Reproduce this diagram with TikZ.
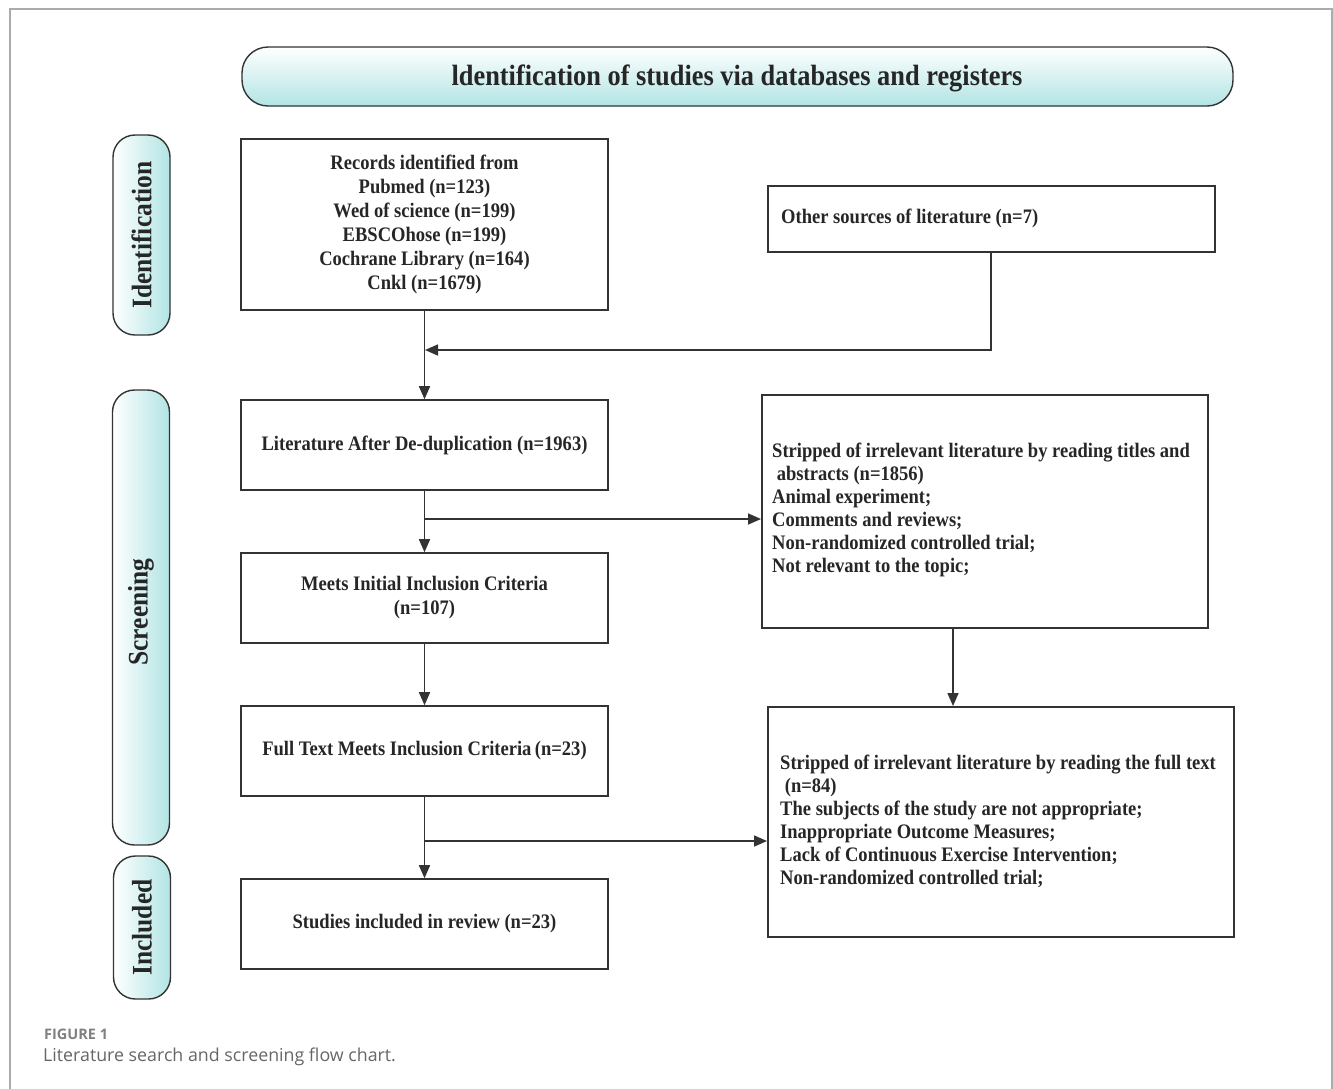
\documentclass[tikz,border=0pt]{standalone}
\usepackage{fontspec}
\setmainfont{Liberation Serif}
\newfontfamily\cf[FakeStretch=0.9]{Liberation Serif}
\newfontfamily\capfont{Open Sans}
\usetikzlibrary{arrows.meta}
\definecolor{ln}{HTML}{333333}
\definecolor{cy}{HTML}{B2E4E4}
\definecolor{tx}{HTML}{262626}
\definecolor{fr}{HTML}{ABABAB}
\tikzset{
  box/.style={draw=ln, line width=1.6pt, fill=white, inner sep=0pt, font=\cf\bfseries\fontsize{20.6}{24}\selectfont, text=tx, align=center},
  sidetxt/.style={font=\cf\bfseries\fontsize{20.6}{23}\selectfont, text=tx, align=left, anchor=west, inner sep=0pt},
  pill/.style={draw=ln, line width=1.4pt, rounded corners=22pt, left color=white, right color=cy, inner sep=0pt},
  pilltxt/.style={rotate=90, font=\cf\bfseries\fontsize{28.3}{30}\selectfont, text=tx},
  banner/.style={draw=ln, line width=1.4pt, rounded corners=26pt, top color=white, bottom color=cy, inner sep=0pt},
  conn/.style={draw=ln, line width=1.6pt},
  arr/.style={conn, -{Triangle[length=13pt,width=11pt]}},
}
\begin{document}
\begin{tikzpicture}[x=1pt,y=-1pt]
\useasboundingbox (0,0) rectangle (1333,1088);
% outer frame
\draw[fr, line width=1.5pt] (10,1090) -- (10,9) -- (1332,9) -- (1332,1090);
% banner
\node[banner, minimum width=991pt, minimum height=59pt] (ban) at (737.5,76.5) {};
\node[font=\cf\bfseries\fontsize{29.3}{30}\selectfont, text=tx] (bant) at (737,78) {ldentification of studies via databases and registers};
% side pills
\node[pill, minimum width=57pt, minimum height=200pt] (pid) at (141.5,235) {};
\node[pilltxt] (pidt) at (pid.center) {Identification};
\node[pill, minimum width=57pt, minimum height=455pt] (psc) at (141,617.5) {};
\node[pilltxt] (psct) at (141,612) {Screening};
\node[pill, minimum width=57pt, minimum height=143pt] (pin) at (142,927.5) {};
\node[pilltxt] (pint) at (pin.center) {Included};
% left boxes
\node[box, minimum width=367pt, minimum height=171pt] (rec) at (424.5,224.5) {Records identified from\\ Pubmed (n=123)\\ Wed of science (n=199)\\ EBSCOhose (n=199)\\ Cochrane Library (n=164)\\ Cnkl (n=1679)};
\node[box, minimum width=447pt, minimum height=66pt, anchor=north west] (oth) at (767,185) {};
\node[sidetxt] (otht) at (781,218) {Other sources of literature (n=7)};
\node[box, minimum width=367pt, minimum height=90pt] (dup) at (424.5,445) {Literature After De-duplication (n=1963)};
\node[box, minimum width=367pt, minimum height=90pt] (ini) at (424.5,598) {Meets Initial Inclusion Criteria\\ (n=107)};
\node[box, minimum width=367pt, minimum height=90pt] (ful) at (424.5,751) {Full Text Meets Inclusion Criteria\,(n=23)};
\node[box, minimum width=367pt, minimum height=90pt] (inc) at (424.5,924) {Studies included in review (n=23)};
% right boxes
\node[box, minimum width=446pt, minimum height=233pt, anchor=north west] (ex1) at (761,394) {};
\node[sidetxt] (ex1t) at (772,510) {Stripped of irrelevant literature by reading titles and\\ \ abstracts (n=1856)\\ Animal experiment;\\ Comments and reviews;\\ Non-randomized controlled trial;\\ Not relevant to the topic;};
\node[box, minimum width=466pt, minimum height=230pt, anchor=north west] (ex2) at (767,706) {};
\node[sidetxt] (ex2t) at (780,821) {Stripped of irrelevant literature by reading the full text\\ \ (n=84)\\ The subjects of the study are not appropriate;\\ Inappropriate Outcome Measures;\\ Lack of Continuous Exercise Intervention;\\ Non-randomized controlled trial;};
% connectors
\coordinate (j1) at (425,350);
\coordinate (j2) at (425,519);
\coordinate (j3) at (425,841);
\draw[arr] (rec.south) -- (dup.north);
\draw[arr] (oth.south -| 991,0) -- (991,350) -- (j1);
\draw[arr] (dup.south) -- (ini.north);
\draw[arr] (j2) -- (ex1.west |- j2);
\draw[arr] (ini.south) -- (ful.north);
\draw[arr] (ex1.south -| 953,0) -- (ex2.north -| 953,0);
\draw[arr] (ful.south) -- (inc.north);
\draw[arr] (j3) -- (ex2.west |- j3);
% caption
\node[anchor=west, inner sep=0pt, font=\capfont\bfseries\fontsize{14.5}{16}\selectfont, text=black!50] (fig) at (44,1034) {FIGURE 1};
\node[anchor=west, inner sep=0pt, font=\capfont\fontsize{17.8}{20}\selectfont, text=black!60] (cap) at (43,1057) {Literature search and screening flow chart.};
\end{tikzpicture}
\end{document}
